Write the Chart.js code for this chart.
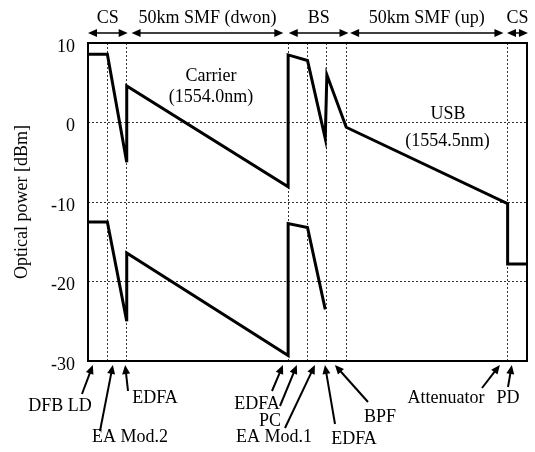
<!DOCTYPE html>
<html>
<head>
<meta charset="utf-8">
<script src="https://cdn.jsdelivr.net/npm/chart.js@4/dist/chart.umd.min.js"></script>
<style>
  html, body { margin: 0; padding: 0; background: #fff; }
  #wrap { width: 535px; height: 452px; }
</style>
</head>
<body>
<div id="wrap"><canvas id="c" width="535" height="452"></canvas></div>
<script>
// Positions along the link (schematic units) where each block starts/ends
const stages = [0, 6, 12, 62, 68, 74, 80, 130, 136];

// Optical power of the carrier / upper sideband path [dBm]
const carrierX = [0, 6, 12, 12, 62, 62, 68, 73.5, 74, 80, 130, 130, 136];
const carrierY = [8.6, 8.6, -5, 4.6, -8.1, 8.5, 7.8, -2, 6, -0.6, -10.2, -17.8, -17.8];

// Optical power of the sideband (removed by the BPF) [dBm]
const sidebandX = [0, 6, 12, 12, 62, 62, 68, 73.5];
const sidebandY = [-12.5, -12.5, -25, -16.4, -29.3, -12.7, -13.2, -23.5];

// Y axis ticks
const yTicks = [10, 0, -10, -20, -30];

// Link sections shown above the plot
const sectionLabels = ['CS', '50km SMF (dwon)', 'BS', '50km SMF (up)', 'CS'];
const sectionFrom = [0, 13.5, 62.2, 81.2, 129.8];
const sectionTo = [12.3, 60.5, 80.7, 128.7, 136.3];

// Components marked below the plot
const compLabels = ['DFB LD', 'EA Mod.2', 'EDFA', 'EDFA', 'PC', 'EA Mod.1', 'EDFA', 'BPF', 'Attenuator', 'PD'];
const compAt = [1.5, 7.7, 11.5, 60.4, 64.7, 70.3, 73.4, 76.5, 127.6, 131.3];

const SERIF = '"Liberation Serif", "Times New Roman", serif';

function toPts(xs, ys) { return xs.map((x, i) => ({ x: x, y: ys[i] })); }

function arrowHead(ctx, x0, y0, x1, y1, len, half) {
  const a = Math.atan2(y1 - y0, x1 - x0);
  ctx.beginPath();
  ctx.moveTo(x1, y1);
  ctx.lineTo(x1 - len * Math.cos(a) + half * Math.sin(a), y1 - len * Math.sin(a) - half * Math.cos(a));
  ctx.lineTo(x1 - len * Math.cos(a) - half * Math.sin(a), y1 - len * Math.sin(a) + half * Math.cos(a));
  ctx.closePath();
  ctx.fill();
}

// Frame, section arrows, block labels and component pointers
const annotations = {
  id: 'annotations',
  afterDatasetsDraw(chart) {
    const { ctx, chartArea: ca } = chart;
    const xs = chart.scales.x, ys = chart.scales.y;
    ctx.save();
    ctx.strokeStyle = '#000';
    ctx.fillStyle = '#000';

    // plot frame
    ctx.lineWidth = 2;
    ctx.strokeRect(ca.left, ca.top, ca.right - ca.left, ca.bottom - ca.top);

    // section arrows across the top
    ctx.font = '18px ' + SERIF;
    ctx.textAlign = 'center';
    ctx.textBaseline = 'middle';
    const ay = 33;
    sectionLabels.forEach((lab, i) => {
      const a = xs.getPixelForValue(sectionFrom[i]);
      const b = xs.getPixelForValue(sectionTo[i]);
      ctx.lineWidth = 1.5;
      ctx.beginPath();
      ctx.moveTo(a + 4, ay);
      ctx.lineTo(b - 4, ay);
      ctx.stroke();
      arrowHead(ctx, b, ay, a, ay, 9, 4);
      arrowHead(ctx, a, ay, b, ay, 9, 4);
      ctx.fillText(lab, (a + b) / 2, 18);
    });

    // signal labels inside the plot
    const inner = [
      ['Carrier', 38.1, 5.8], ['(1554.0nm)', 38.1, 3.2],
      ['USB', 111.5, 1.0], ['(1554.5nm)', 111.4, -2.3]
    ];
    inner.forEach(([t, x, y]) => {
      ctx.fillText(t, xs.getPixelForValue(x), ys.getPixelForValue(y));
    });

    // component pointers: [text x, text y, tail x, tail y]
    const place = [
      [60, 406, 82, 394],
      [130, 437, 100, 431],
      [155, 398, 128, 391],
      [257, 404, 272, 391],
      [270, 421, 280, 406],
      [274, 437, 285, 428],
      [354, 439, 335, 424],
      [380, 417, 368, 402],
      [446, 398, 482, 388],
      [508, 398, 508, 387]
    ];
    compLabels.forEach((lab, i) => {
      const [tx, ty, sx, sy] = place[i];
      const px = xs.getPixelForValue(compAt[i]);
      const py = ca.bottom + 4;
      ctx.lineWidth = 2;
      ctx.beginPath();
      ctx.moveTo(sx, sy);
      const a = Math.atan2(py - sy, px - sx);
      ctx.lineTo(px - 6 * Math.cos(a), py - 6 * Math.sin(a));
      ctx.stroke();
      arrowHead(ctx, sx, sy, px, py, 9, 4);
      ctx.fillText(lab, tx, ty);
    });
    ctx.restore();
  }
};

new Chart(document.getElementById('c'), {
  type: 'line',
  data: {
    datasets: [
      { data: toPts(carrierX, carrierY), borderColor: '#000', borderWidth: 3, pointRadius: 0, tension: 0, clip: false },
      { data: toPts(sidebandX, sidebandY), borderColor: '#000', borderWidth: 3, pointRadius: 0, tension: 0, clip: false }
    ]
  },
  options: {
    responsive: false,
    animation: false,
    events: [],
    layout: { padding: { top: 43, bottom: 91, right: 8, left: 0 } },
    plugins: { legend: { display: false }, tooltip: { enabled: false } },
    scales: {
      x: {
        type: 'linear',
        min: stages[0],
        max: stages[stages.length - 1],
        afterBuildTicks: (s) => { s.ticks = stages.map(v => ({ value: v })); },
        afterFit: (s) => { s.height = 0; },
        ticks: { display: false },
        border: { display: false, dash: [2, 2] },
        grid: { color: '#333', lineWidth: 1, drawTicks: false }
      },
      y: {
        min: -30,
        max: 10,
        afterBuildTicks: (s) => { s.ticks = yTicks.map(v => ({ value: v })); },
        afterFit: (s) => { s.width = 88; },
        border: { display: false, dash: [2, 2] },
        grid: { color: '#333', lineWidth: 1, drawTicks: false },
        ticks: {
          color: '#000',
          padding: 13,
          labelOffset: 4,
          font: { family: SERIF, size: 18 }
        },
        title: {
          display: true,
          text: 'Optical power [dBm]',
          color: '#000',
          padding: { top: 11, bottom: 0 },
          font: { family: SERIF, size: 18 }
        }
      }
    }
  },
  plugins: [annotations]
});
</script>
</body>
</html>
